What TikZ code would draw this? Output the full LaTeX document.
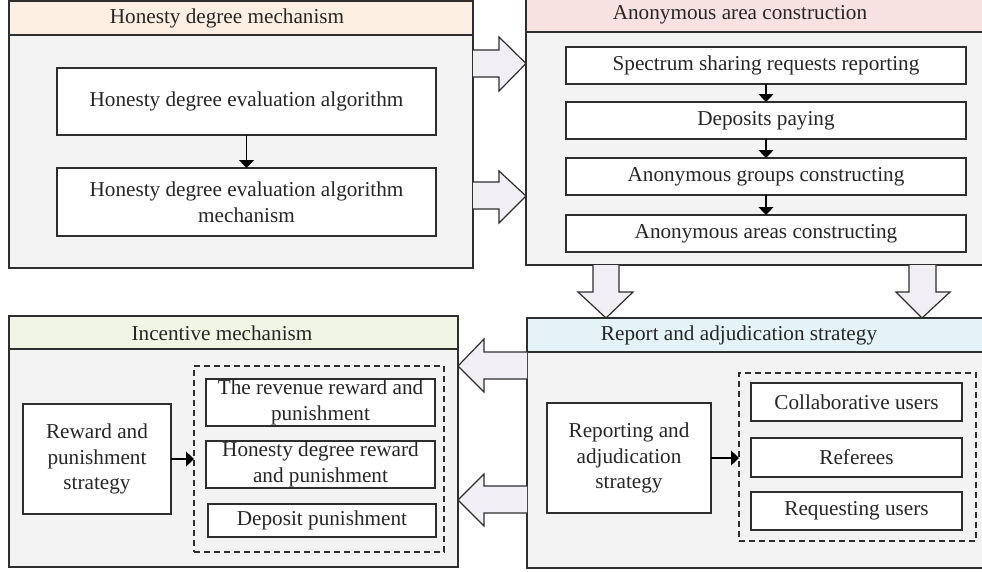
\documentclass[tikz,border=0pt]{standalone}
\usepackage{fontspec}
\setmainfont{Liberation Serif}
\usetikzlibrary{arrows.meta}
\definecolor{peach}{HTML}{FDF0E3}
\definecolor{pinkh}{HTML}{F8E2E1}
\definecolor{greenh}{HTML}{F1F5E4}
\definecolor{blueh}{HTML}{E3F3F7}
\definecolor{bodyg}{HTML}{F3F3F3}
\definecolor{afill}{HTML}{F2EEF6}
\definecolor{edge}{HTML}{2E2E2E}
\newcommand\myfs{\fontsize{21.2}{25.5}\selectfont}
\begin{document}
\begin{tikzpicture}[x=1pt,y=-1pt,
  panel/.style={draw=edge, fill=bodyg, line width=1.4pt},
  hdr/.style={draw=edge, line width=1.4pt},
  htext/.style={font=\myfs, inner sep=0pt, text=black!85},
  box/.style={draw=edge, fill=white, line width=1.2pt, align=center, inner sep=0pt, outer sep=0pt, font=\myfs, text=black!85},
  dbox/.style={draw=edge, dashed, dash pattern=on 6pt off 4pt, line width=1.2pt, inner sep=0pt, outer sep=0pt},
  fat/.style={fill=afill, draw=edge, line width=1.2pt},
  link/.style={-{Triangle[length=8pt,width=15pt]}, line width=1.1pt, draw=black}]
\useasboundingbox (0,0) rectangle (982,571);
\clip (0,0) rectangle (982,571);
\fill[white] (0,0) rectangle (982,571);

% ---------- panel 1: Honesty degree mechanism
\draw[panel] (9,35) rectangle (473,268);
\draw[hdr, fill=peach] (9,1) rectangle (473,35);
\node[htext] (h1) at (227,18) {Honesty degree mechanism};
\node[box, minimum width=379pt, minimum height=67pt] (a1) at (246.5,101.5) {Honesty degree evaluation algorithm};
\node[box, minimum width=379pt, minimum height=68pt] (a2) at (246.5,202) {Honesty degree evaluation algorithm\\mechanism};
\draw[link] (a1.south) -- (a2.north);

% ---------- panel 2: Anonymous area construction
\draw[panel] (526,32) rectangle (986,265);
\draw[hdr, fill=pinkh] (526,-2) rectangle (986,32);
\node[htext] (h2) at (740,15) {Anonymous area construction};
\node[box, minimum width=400pt, minimum height=37pt] (b1) at (766,65.5) {Spectrum sharing requests reporting};
\node[box, minimum width=400pt, minimum height=37pt] (b2) at (766,120.5) {Deposits paying};
\node[box, minimum width=400pt, minimum height=37pt] (b3) at (766,176.5) {Anonymous groups constructing};
\node[box, minimum width=400pt, minimum height=37pt] (b4) at (766,233.5) {Anonymous areas constructing};
\draw[link] (b1.south) -- (b2.north);
\draw[link] (b2.south) -- (b3.north);
\draw[link] (b3.south) -- (b4.north);

% ---------- panel 3: Incentive mechanism
\draw[panel] (9,349) rectangle (458,567);
\draw[hdr, fill=greenh] (9,316) rectangle (458,349);
\node[htext] (h3) at (222,333) {Incentive mechanism};
\node[dbox, minimum width=250pt, minimum height=186pt] (d1) at (319,459) {};
\node[box, minimum width=148pt, minimum height=110pt] (rw) at (97,459) {Reward and\\punishment\\strategy};
\node[box, minimum width=229pt, minimum height=47pt] (c1) at (320.5,402.5) {The revenue reward and\\punishment};
\node[box, minimum width=229pt, minimum height=47pt] (c2) at (320.5,464.5) {Honesty degree reward\\and punishment};
\node[box, minimum width=228pt, minimum height=33pt] (c3) at (322,520.5) {Deposit punishment};
\draw[link] (rw.east) -- (rw.east -| d1.west);

% ---------- panel 4: Report and adjudication strategy
\draw[panel] (527,352) rectangle (986,568);
\draw[hdr, fill=blueh] (527,318) rectangle (986,352);
\node[htext] (h4) at (739,335) {Report and adjudication strategy};
\node[dbox, minimum width=237pt, minimum height=168pt] (d2) at (857.5,457) {};
\node[box, minimum width=164pt, minimum height=110pt] (rp) at (629,458) {Reporting and\\adjudication\\strategy};
\node[box, minimum width=211pt, minimum height=38pt] (e1) at (856.5,402) {Collaborative users};
\node[box, minimum width=211pt, minimum height=39pt] (e2) at (856.5,457.5) {Referees};
\node[box, minimum width=211pt, minimum height=38pt] (e3) at (856.5,511) {Requesting users};
\draw[link] (rp.east) -- (rp.east -| d2.west);

% ---------- fat arrows between panels
% right arrows (panel 1 -> panel 2)
\path[fat] (473,50) -- (499,50) -- (499,37) -- (526,63.5) -- (499,91) -- (499,77) -- (473,77);
\path[fat] (473,182) -- (499,182) -- (499,171) -- (526,196) -- (499,223) -- (499,209) -- (473,209);
% down arrows (panel 2 -> panel 4)
\path[fat] (593,265) -- (593,292) -- (578,292) -- (606,318) -- (633,292) -- (619,292) -- (619,265);
\path[fat] (909,265) -- (909,292) -- (896,292) -- (922,318) -- (950,292) -- (936,292) -- (936,265);
% left arrows (panel 4 -> panel 3)
\path[fat] (527,352) -- (484,352) -- (484,339) -- (458,366) -- (484,392) -- (484,379) -- (527,379);
\path[fat] (527,486) -- (484,486) -- (484,474) -- (458,500) -- (484,526) -- (484,513) -- (527,513);
\end{tikzpicture}
\end{document}
